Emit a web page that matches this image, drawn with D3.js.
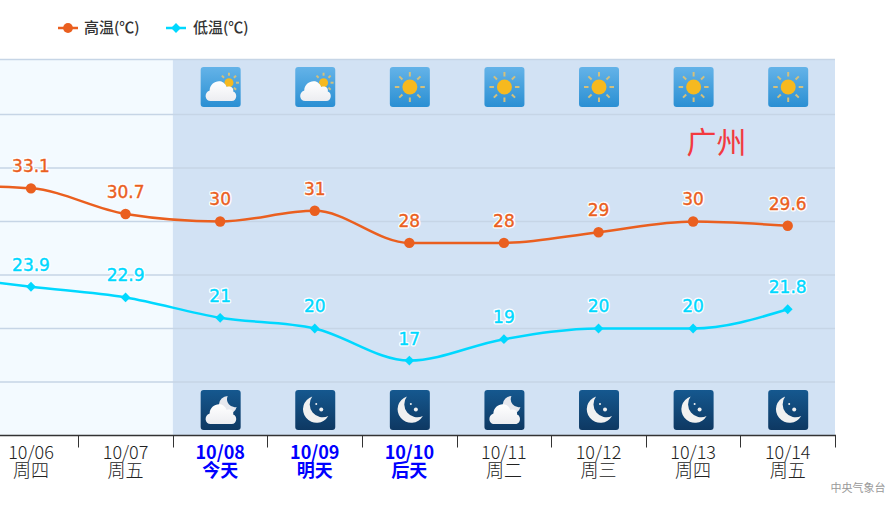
<!DOCTYPE html>
<html>
<head>
<meta charset="utf-8">
<script src="https://cdn.jsdelivr.net/npm/d3@7"></script>
<style>
  html, body { margin: 0; padding: 0; background: #fff; overflow: hidden; }
  svg { display: block; font-family: "DejaVu Sans", sans-serif; }
  .cjk { font-family: "Noto Sans CJK SC", sans-serif; }
</style>
</head>
<body>
<svg id="chart" width="894" height="505"></svg>
<script>
    // 10/05 sits left of the frame, only its line segment shows
    var dates = ["10/05", "10/06", "10/07", "10/08", "10/09", "10/10", "10/11", "10/12", "10/13", "10/14"];
    var weekdays = ["周三", "周四", "周五", "今天", "明天", "后天", "周二", "周三", "周四", "周五"];
    var highTemps = [33.4, 33.1, 30.7, 30, 31, 28, 28, 29, 30, 29.6];
    var lowTemps = [25, 23.9, 22.9, 21, 20, 17, 19, 20, 20, 21.8];
    var dayIcons = ["", "", "", "cloud", "cloud", "sun", "sun", "sun", "sun", "sun"];
    var nightIcons = ["", "", "", "nightcloud", "moon", "moon", "nightcloud", "moon", "moon", "moon"];
    var highlighted = ["10/08", "10/09", "10/10"];
    var forecastStart = "10/08";
    var yMax = 45.14;
    var yTicks = [15, 20, 25, 30, 35, 40, yMax];
    var legendItems = ["高温(℃)", "低温(℃)"];
    var cityName = "广州";
    var sourceName = "中央气象台";

    var highColor = "#ea5f1f", lowColor = "#00d8ff";
    var plotTop = 59.5, plotBottom = 435.5, plotRight = 835;

    var svg = d3.select("#chart");

    var x = d3.scaleBand()
        .domain(dates)
        .range([-110.9, plotRight]);

    var y = d3.scaleLinear()
        .domain([10, yMax])
        .range([plotBottom, plotTop]);

    var cx = function(i) { return x(dates[i]) + x.bandwidth() / 2; };

    var defs = svg.append("defs");

    function addGradient(id, top, bottom) {
        var g = defs.append("linearGradient").attr("id", id)
            .attr("x1", 0).attr("y1", 0).attr("x2", 0).attr("y2", 1);
        g.append("stop").attr("offset", "0%").attr("stop-color", top);
        g.append("stop").attr("offset", "100%").attr("stop-color", bottom);
    }
    addGradient("daySky", "#64b3e8", "#2a8fd3");
    addGradient("nightSky", "#15588f", "#0e3862");
    addGradient("cloudFill", "#ffffff", "#ecedf1");

    // background bands
    svg.append("rect")
        .attr("x", 0).attr("y", plotTop)
        .attr("width", x(forecastStart)).attr("height", plotBottom - plotTop)
        .attr("fill", "#f3faff");
    svg.append("rect")
        .attr("x", x(forecastStart)).attr("y", plotTop)
        .attr("width", plotRight - x(forecastStart)).attr("height", plotBottom - plotTop)
        .attr("fill", "#d2e2f4");

    // grid lines
    svg.append("g").selectAll("line")
        .data(yTicks)
        .enter().append("line")
        .attr("x1", 0).attr("x2", plotRight)
        .attr("y1", d => y(d))
        .attr("y2", d => y(d))
        .attr("stroke", "#c6d5e6")
        .attr("stroke-width", 1.4);

    // icons
    function drawCloud(g) {
        g.append("path")
            .attr("d", "M10 34 C4 34 3 25.5 9 23.5 C9 14.5 22 10 26 20 C30 18.5 33.5 21 32.5 24.5 C37 25.5 36.5 34 31 34 Z")
            .attr("fill", "url(#cloudFill)");
    }

    function drawSun(g, cx0, cy0, r, len, rayOuter) {
        d3.range(8).forEach(function(k) {
            var a = k * Math.PI / 4;
            g.append("line")
                .attr("x1", cx0 + Math.cos(a) * (rayOuter - len))
                .attr("y1", cy0 + Math.sin(a) * (rayOuter - len))
                .attr("x2", cx0 + Math.cos(a) * rayOuter)
                .attr("y2", cy0 + Math.sin(a) * rayOuter)
                .attr("stroke", "#d3c07c")
                .attr("stroke-width", 2);
        });
        g.append("circle").attr("cx", cx0).attr("cy", cy0).attr("r", r).attr("fill", "#f6b91f");
    }

    function drawIcon(sel, kind, top) {
        var isDay = kind == "cloud" || kind == "sun";
        var g = sel.append("g").attr("transform", "translate(0," + top + ")");
        g.append("rect").attr("width", 40).attr("height", 40).attr("rx", 3)
            .attr("fill", isDay ? "url(#daySky)" : "url(#nightSky)");
        if (kind == "sun") {
            drawSun(g, 20, 20, 7.5, 4.5, 15);
        } else if (kind == "cloud") {
            drawSun(g, 28.3, 15.7, 4.5, 3, 10);
            drawCloud(g);
        } else if (kind == "moon") {
            g.append("path")
                .attr("d", "M17 6.5 A13.5 13.5 0 1 0 33 26 A13 13 0 0 1 17 6.5 Z")
                .attr("fill", "#f1f1f1");
            g.append("circle").attr("cx", 21).attr("cy", 14).attr("r", 1).attr("fill", "#f1f1f1");
            g.append("circle").attr("cx", 26).attr("cy", 19.5).attr("r", 2).attr("fill", "#f1f1f1");
        } else {
            g.append("path")
                .attr("d", "M27 6 A9 9 0 1 0 36 17 A8 8 0 0 1 27 6 Z")
                .attr("fill", "#e6e8ee");
            drawCloud(g);
        }
    }

    dates.forEach(function(d, i) {
        var col = svg.append("g").attr("transform", "translate(" + (cx(i) - 19.5) + ",0)");
        if (dayIcons[i]) drawIcon(col, dayIcons[i], 67);
        if (nightIcons[i]) drawIcon(col, nightIcons[i], 390);
    });

    // city name
    svg.append("text")
        .attr("class", "cjk")
        .attr("x", 716.5).attr("y", 153)
        .attr("text-anchor", "middle")
        .attr("font-size", 30)
        .attr("font-weight", 400)
        .attr("fill", "#f23a3f")
        .text(cityName);

    // lines
    var line = d3.line()
        .x((d, i) => cx(i))
        .y(d => y(d))
        .curve(d3.curveMonotoneX);

    function drawSeries(values, color, symbolType, symbolSize, symbolAngle) {
        svg.append("path")
            .datum(values)
            .attr("d", line)
            .attr("fill", "none")
            .attr("stroke", color)
            .attr("stroke-width", 2.5);
        svg.append("g").selectAll("path")
            .data(values)
            .enter().append("path")
            .attr("d", d3.symbol().type(symbolType).size(symbolSize))
            .attr("transform", (d, i) => "translate(" + cx(i) + "," + y(d) + ") rotate(" + symbolAngle + ")")
            .attr("fill", color);
        // white halo first, then the figure with a hair of stroke to thicken it
        var labels = svg.append("g").selectAll("g")
            .data(values.slice(1))
            .enter().append("g")
            .attr("transform", (d, i) => "translate(" + cx(i + 1) + "," + (y(d) - 16) + ")")
            .attr("text-anchor", "middle")
            .attr("font-size", 17);
        labels.append("text")
            .attr("fill", "#fff")
            .attr("stroke", "#fff")
            .attr("stroke-width", 3)
            .attr("stroke-linejoin", "round")
            .text(d => d);
        labels.append("text")
            .attr("fill", color)
            .attr("stroke", color)
            .attr("stroke-width", 0.4)
            .text(d => d);
    }

    drawSeries(highTemps, highColor, d3.symbolCircle, 85, 0);
    drawSeries(lowTemps, lowColor, d3.symbolSquare, 48, 45);

    // x axis, ticks fall on the band edges so they are added by hand
    var axis = svg.append("g")
        .attr("transform", "translate(0," + plotBottom + ")")
        .call(d3.axisBottom(x).tickSize(0).tickPadding(0).tickValues(dates.slice(1)));
    axis.select(".domain").remove();
    axis.append("line")
        .attr("x1", 0).attr("x2", plotRight + 1)
        .attr("y1", 0).attr("y2", 0)
        .attr("stroke", "#333")
        .attr("stroke-width", 1.5);
    axis.selectAll(".edge")
        .data(dates.slice(1))
        .enter().append("line")
        .attr("class", "edge")
        .attr("x1", d => Math.round(x(d) + x.bandwidth()) + 0.5)
        .attr("x2", d => Math.round(x(d) + x.bandwidth()) + 0.5)
        .attr("y1", 0).attr("y2", 12)
        .attr("stroke", "#333");

    axis.selectAll(".tick text").each(function(d) {
        var i = dates.indexOf(d);
        var hot = highlighted.indexOf(d) >= 0;
        var t = d3.select(this)
            .attr("class", "cjk")
            .attr("y", 0).attr("dy", null)
            .attr("font-size", 18)
            .attr("font-weight", hot ? 700 : 300)
            .attr("fill", hot ? "#0000ff" : "#222")
            .text(null);
        t.append("tspan").attr("x", 0).attr("y", 23.5).text(d);
        t.append("tspan").attr("x", 0).attr("y", 41.5).text(weekdays[i]);
    });

    // legend
    var legendX = [58, 166];
    var legendTextX = [26, 27];
    legendItems.forEach(function(label, i) {
        var color = i == 0 ? highColor : lowColor;
        var g = svg.append("g").attr("transform", "translate(" + legendX[i] + ",28)");
        g.append("line").attr("x1", 0).attr("x2", 20).attr("stroke", color).attr("stroke-width", 2.5);
        g.append("path")
            .attr("d", d3.symbol().type(i == 0 ? d3.symbolCircle : d3.symbolSquare).size(i == 0 ? 75 : 48))
            .attr("transform", "translate(10,0) rotate(" + (i == 0 ? 0 : 45) + ")")
            .attr("fill", color);
        g.append("text")
            .attr("class", "cjk")
            .attr("x", legendTextX[i]).attr("y", 5)
            .attr("font-size", 15)
            .attr("font-weight", 500)
            .attr("fill", "#333")
            .text(label);
    });

    // source
    svg.append("text")
        .attr("class", "cjk")
        .attr("x", 885.5).attr("y", 492)
        .attr("text-anchor", "end")
        .attr("font-size", 11)
        .attr("fill", "#999")
        .text(sourceName);
</script>
</body>
</html>
